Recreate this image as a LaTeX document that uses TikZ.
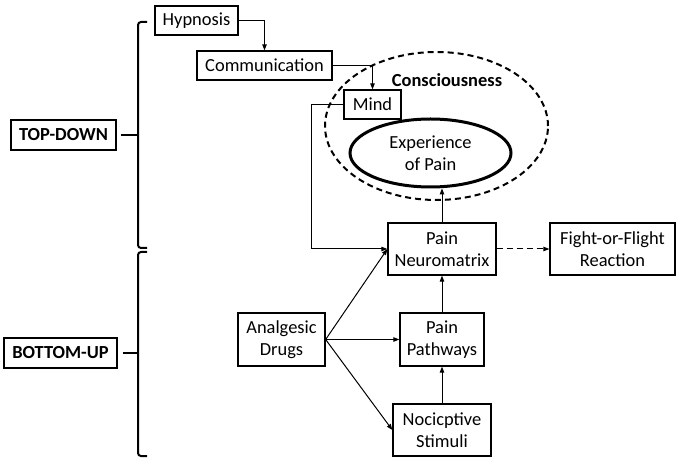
\documentclass[tikz,border=0pt]{standalone}
\usepackage{fontspec}
\setmainfont{Carlito}
\usetikzlibrary{arrows.meta,shapes.geometric}
\begin{document}
\begin{tikzpicture}[x=1bp,y=-1bp,
  font=\fontsize{18.5}{22}\selectfont,
  box/.style={draw,line width=1.3bp,inner sep=0pt,align=center},
  arr/.style={line width=1bp,-{Triangle[length=6bp,width=4.5bp]}},
  brace/.style={line width=2bp,rounded corners=3bp}]
\useasboundingbox (0,0) rectangle (680,462);
% boxes
\node[box,minimum width=83bp,minimum height=29bp] (hyp) at (196.5,20.5) {Hypnosis};
\node[box,minimum width=135bp,minimum height=29bp] (comm) at (264.5,65.5) {Communication};
\node[box,minimum width=57bp,minimum height=29bp] (mind) at (372.5,104.5) {Mind};
\node[box,minimum width=108bp,minimum height=52bp] (pn) at (442,249) {Pain\\Neuromatrix};
\node[box,minimum width=125bp,minimum height=52bp] (ff) at (612.5,249) {Fight-or-Flight\\Reaction};
\node[box,minimum width=87bp,minimum height=53bp] (ad) at (281.5,339.5) {Analgesic\\Drugs};
\node[box,minimum width=84bp,minimum height=53bp] (pp) at (442,339.5) {Pain\\Pathways};
\node[box,minimum width=98bp,minimum height=52bp] (ns) at (442,430) {Nocicptive\\Stimuli};
\node[box,minimum width=105bp,minimum height=30bp,font=\fontsize{18.5}{22}\selectfont\bfseries] (td) at (63.5,135) {TOP-DOWN};
\node[box,minimum width=113bp,minimum height=30bp,font=\fontsize{18.5}{22}\selectfont\bfseries] (bu) at (60.5,353) {BOTTOM-UP};
% ellipses
\node[draw,ellipse,line width=2bp,minimum width=223bp,minimum height=148bp,inner sep=0pt,dash pattern=on 6bp off 4bp] (cons) at (436.5,126) {};
\node[font=\fontsize{18.5}{22}\selectfont\bfseries] (conslbl) at (447,80) {Consciousness};
\node[draw,ellipse,line width=3bp,minimum width=161bp,minimum height=68bp,inner sep=0pt,align=center] (exp) at (430.5,153) {Experience\\of Pain};
% connectors
\draw[arr] (hyp.east) -| (comm.north);
\draw[arr] (comm.east) -| (mind.north);
\coordinate (bend) at (311,104.5);
\draw[arr] (mind.west) -- (bend) |- (pn.west);
\draw[arr] (pn.north) -- (pn.north |- exp.south);
\draw[arr,dash pattern=on 6bp off 4bp] (pn.east) -- (ff.west);
\draw[arr] (pp.north) -- (pn.south);
\draw[arr] (ns.north) -- (pp.south);
\draw[arr] (ad.east) -- (pn.west);
\draw[arr] (ad.east) -- (pp.west);
\draw[arr] (ad.east) -- (ns.west);
% braces
\coordinate (tbtop) at (147,22);
\coordinate (tbbot) at (147,248);
\coordinate (bbtop) at (147,252);
\coordinate (bbbot) at (147,456);
\draw[brace] (tbtop) -- (138,22) -- (138,248) -- (tbbot);
\draw[brace] (bbtop) -- (138,252) -- (138,456) -- (bbbot);
\draw[line width=2bp] (td.east) ++(4,0) -- (138,135);
\draw[line width=2bp] (bu.east) ++(5,0) -- (138,353);
\end{tikzpicture}
\end{document}
